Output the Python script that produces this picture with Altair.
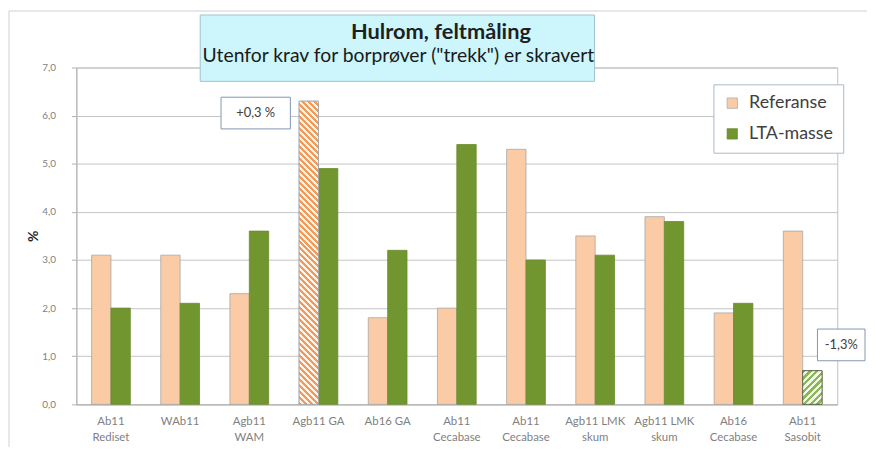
import json
import altair as alt
import pandas as pd

# ---------------- data ----------------
CATEGORIES = ["Ab11|Rediset", "WAb11", "Agb11|WAM", "Agb11 GA", "Ab16 GA",
              "Ab11|Cecabase", "Ab11|Cecabase", "Agb11 LMK|skum",
              "Agb11 LMK|skum", "Ab16|Cecabase", "Ab11|Sasobit"]
SERIES = ["Referanse", "LTA-masse"]
REFERANSE = [3.1, 3.1, 2.3, 6.3, 1.8, 2.0, 5.3, 3.5, 3.9, 1.9, 3.6]
LTA_MASSE = [2.0, 2.1, 3.6, 4.9, 3.2, 5.4, 3.0, 3.1, 3.8, 2.1, 0.7]
HATCHED_REF = [3]      # category index with hatched Referanse bar
HATCHED_LTA = [10]     # category index with hatched LTA-masse bar
Y_TICKS = [0, 1, 2, 3, 4, 5, 6, 7]
TITLE = "Hulrom, feltmåling"
SUBTITLE = 'Utenfor krav for borprøver ("trekk") er skravert'
NOTE_REF = "+0,3 %"
NOTE_LTA = "-1,3%"

# ---------------- style ----------------
W, H = 768, 340
Y_MAX = 7
PAD_INNER, PAD_OUTER = 0.44, 0.22
PEACH = "#FBCBA5"
GREEN = "#72962F"
FONT = "Lato"
GREY_TXT = "#7f7f7f"

rows = []
for i in range(len(CATEGORIES)):
    rows.append({"idx": i, "series": SERIES[0], "value": REFERANSE[i],
                 "hatched": i in HATCHED_REF})
    rows.append({"idx": i, "series": SERIES[1], "value": LTA_MASSE[i],
                 "hatched": i in HATCHED_LTA})
df = pd.DataFrame(rows)
one = pd.DataFrame({"k": [0]})

bar_w = W / len(CATEGORIES) * (1 - PAD_INNER) / 2


def hatch(c1, c2, value, direction, period=6.0):
    w = bar_w
    h = value / Y_MAX * H
    r = h / w
    a = (1 + r) / (1 + r * r)
    n = max(1, round((w + h) / period))
    stops = []
    for i in range(n):
        stops += [alt.GradientStop(offset=i / n, color=c1),
                  alt.GradientStop(offset=(i + 0.5) / n, color=c1),
                  alt.GradientStop(offset=(i + 0.5) / n, color=c2),
                  alt.GradientStop(offset=(i + 1) / n, color=c2)]
    if direction == "/":
        x1, y1, x2, y2 = 0, 0, a, a * r
    else:
        x1, y1, x2, y2 = 0, 1, a, 1 - a * r
    return alt.Gradient(gradient="linear", stops=stops, x1=x1, y1=y1, x2=x2, y2=y2)


x_labels = json.dumps(CATEGORIES)
x_enc = alt.X("idx:N",
              scale=alt.Scale(paddingInner=PAD_INNER, paddingOuter=PAD_OUTER),
              axis=alt.Axis(title=None, labelAngle=0, ticks=False,
                            labelExpr=f"split({x_labels}[datum.value], '|')",
                            labelFont=FONT, labelFontSize=11.5, labelColor=GREY_TXT,
                            labelLineHeight=17, labelPadding=11,
                            domainColor="#b0b0b0"))
xo_enc = alt.XOffset("series:N", scale=alt.Scale(domain=SERIES, paddingInner=0, paddingOuter=0))
y_enc = alt.Y("value:Q",
              scale=alt.Scale(domain=[0, Y_MAX], nice=False),
              axis=alt.Axis(title="%", titleAngle=-90, titleFont=FONT, titleFontSize=14,
                            titleFontWeight="bold", titleColor="#222222", titlePadding=1,
                            values=Y_TICKS,
                            labelExpr="replace(format(datum.value, '.1f'), '.', ',')",
                            labelFont=FONT, labelFontSize=10, labelColor=GREY_TXT,
                            labelPadding=16, tickSize=5, tickColor="#b0b0b0",
                            domainColor="#b0b0b0", gridColor="#c4c4c4"))

frame = alt.Chart(one).mark_rect(filled=False, stroke="#d0d0d0", strokeWidth=1).encode(
    x=alt.value(-68), x2=alt.value(W + 200), y=alt.value(-57), y2=alt.value(H + 200))

bars = alt.Chart(df).mark_bar(strokeWidth=0.8).encode(
    x=x_enc, xOffset=xo_enc, y=y_enc,
    color=alt.Color("series:N", scale=alt.Scale(domain=SERIES, range=[PEACH, GREEN]),
                    legend=alt.Legend(title=None, orient="none", legendX=643, legendY=17,
                                      fillColor="white", strokeColor="#a9b9c9",
                                      padding=10, symbolType="square", symbolSize=110,
                                      symbolStrokeColor="#a0a0a0", symbolStrokeWidth=0.7,
                                      labelFont=FONT, labelFontSize=18, labelColor="#404040",
                                      labelOffset=8, rowPadding=13)),
    stroke=alt.Stroke("series:N", scale=alt.Scale(domain=SERIES, range=["#a6a6a6", "#6a8a2c"]),
                      legend=None),
)

ref_h = df[(df.series == SERIES[0]) & df.hatched]
lta_h = df[(df.series == SERIES[1]) & df.hatched]

hatch_ref = alt.Chart(ref_h).mark_bar(
    fill=hatch("#F39A5A", "#FFF3EA", float(ref_h.value.iloc[0]), "\\"),
    stroke="#9aa6b4", strokeWidth=0.8).encode(x=x_enc, xOffset=xo_enc, y=y_enc)
hatch_lta = alt.Chart(lta_h).mark_bar(
    fill=hatch("#8DB55A", "#F2F8EA", float(lta_h.value.iloc[0]), "/", period=7),
    stroke="#555555", strokeWidth=0.8).encode(x=x_enc, xOffset=xo_enc, y=y_enc)

title_box = alt.Chart(one).mark_rect(fill="#CCF6FC", stroke="#9fc3cc", strokeWidth=1).encode(
    x=alt.value(125), x2=alt.value(523), y=alt.value(-53), y2=alt.value(14))
title_txt = alt.Chart(one).mark_text(font=FONT, fontSize=22, fontWeight="bold",
                                     color="#1f1f1f", baseline="alphabetic").encode(
    x=alt.value(368), y=alt.value(-29), text=alt.value(TITLE))
sub_txt = alt.Chart(one).mark_text(font=FONT, fontSize=19.5, color="#1a1a1a",
                                   baseline="alphabetic").encode(
    x=alt.value(325), y=alt.value(-6), text=alt.value(SUBTITLE))

note1_box = alt.Chart(one).mark_rect(fill="white", stroke="#8497b0", strokeWidth=1).encode(
    x=alt.value(146), x2=alt.value(216), y=alt.value(30), y2=alt.value(62))
note1_txt = alt.Chart(one).mark_text(font=FONT, fontSize=13, color="#404040").encode(
    x=alt.value(181), y=alt.value(46), text=alt.value(NOTE_REF))
note2_box = alt.Chart(one).mark_rect(fill="white", stroke="#8497b0", strokeWidth=1).encode(
    x=alt.value(748), x2=alt.value(796), y=alt.value(264), y2=alt.value(296))
note2_txt = alt.Chart(one).mark_text(font=FONT, fontSize=13, color="#404040").encode(
    x=alt.value(772), y=alt.value(280), text=alt.value(NOTE_LTA))

chart = alt.layer(frame, bars, hatch_ref, hatch_lta, title_box, title_txt, sub_txt,
                  note1_box, note1_txt, note2_box, note2_txt).properties(
    width=W, height=H,
    autosize=alt.AutoSizeParams(type="none"),
    padding={"left": 69, "top": 58, "right": 30, "bottom": 41},
    background="white",
).configure_view(stroke="#c0c0c0")

chart.save("out.html", embed_options={"renderer": "svg", "actions": False})
